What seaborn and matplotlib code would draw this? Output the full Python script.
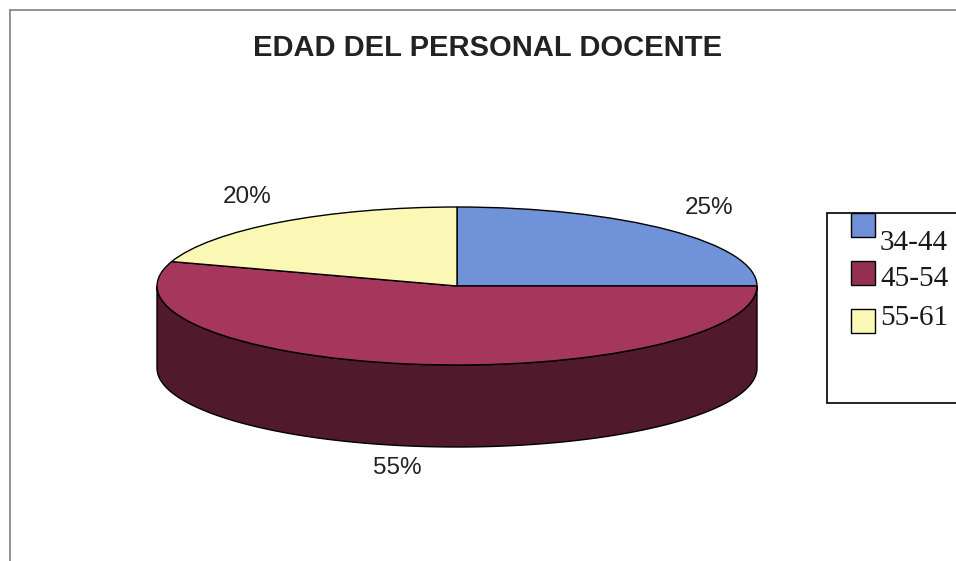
import numpy as np
import matplotlib
matplotlib.use("Agg")
import matplotlib.pyplot as plt
from matplotlib.patches import Rectangle, Polygon
import seaborn as sns

# ---- data ----
title = "EDAD DEL PERSONAL DOCENTE"
categories = ["34-44", "45-54", "55-61"]
values = [25, 55, 20]
pct_labels = ["25%", "55%", "20%"]

sns.set_style("white")
plt.rcParams['font.family'] = ['Liberation Sans', 'DejaVu Sans']

top_colors = sns.color_palette(["#7092d8", "#a5375c", "#fbf8b6"])
side_colors = sns.color_palette(["#3f5c9a", "#501a2c", "#b8b47a"])
legend_colors = ["#6f8fd6", "#952f50", "#fbf8b6"]

W, H = 956, 561
fig = plt.figure(figsize=(W / 100, H / 100), dpi=100)
fig.patch.set_facecolor("white")

# background overlay in pixel coords
bg = fig.add_axes([0, 0, 1, 1])
bg.set_xlim(0, W)
bg.set_ylim(H, 0)
bg.axis("off")

# outer chart frame
bg.plot([10, 10], [10, 561], color="#808080", lw=1.2)
bg.plot([10, 956], [10, 10], color="#808080", lw=1.2)

bg.text(488, 48, title, ha="center", va="center", fontsize=21,
        fontweight="bold", color="#222222")

# ---- pie geometry ----
cx0, cx1 = 157, 757      # ellipse x extent (px)
ty0, ty1 = 207, 365      # top ellipse y extent (px)
depth_px = 82
ry_px = (ty1 - ty0) / 2
d = depth_px / ry_px

left = cx0 / W
width = (cx1 - cx0) / W
bottom = (H - (ty1 + depth_px)) / H
height = (ty1 + depth_px - ty0) / H
ax = fig.add_axes([left, bottom, width, height])

wedges, _ = ax.pie(values, colors=top_colors, startangle=90, counterclock=False,
                   wedgeprops=dict(edgecolor="black", linewidth=1.0),
                   radius=1, center=(0, 0))
for w in wedges:
    w.set_zorder(3)
    w.set_clip_on(False)

# side wall: visible front half (angles 180..360)
total = sum(values)
start = 90.0
for v, sc in zip(values, side_colors):
    a_end = start - 360.0 * v / total
    lo, hi = a_end, start
    for shift in (0, -360, 360):
        l2, h2 = lo + shift, hi + shift
        s0, s1 = max(l2, -180), min(h2, 0)
        if s1 > s0:
            t = np.radians(np.linspace(s0, s1, 200))
            xs = np.cos(t)
            ys = np.sin(t)
            pts = np.concatenate([np.column_stack([xs, ys]),
                                  np.column_stack([xs[::-1], ys[::-1] - d])])
            poly = Polygon(pts, closed=True, facecolor=sc, edgecolor="black",
                           linewidth=1.0, zorder=2, clip_on=False)
            ax.add_patch(poly)
    start = a_end

ax.set_aspect("auto")
ax.set_xlim(-1, 1)
ax.set_ylim(-1 - d, 1)
ax.axis("off")

# percentage labels
start = 90.0
for v, lab in zip(values, pct_labels):
    mid = np.radians(start - 180.0 * v / total)
    if np.sin(mid) >= 0:
        x = 1.19 * np.cos(mid)
        y = 1.39 * np.sin(mid)
    else:
        x = 1.28 * np.cos(mid)
        y = 1.28 * np.sin(mid) - d
    ax.text(x, y, lab, ha="center", va="center", fontsize=17.5, color="#222222",
            clip_on=False)
    start -= 360.0 * v / total

# ---- legend (drawn in pixel coords) ----
bg.add_patch(Rectangle((827, 213), 140, 190, facecolor="white", edgecolor="black",
                       linewidth=1.2, zorder=1))
sq_y = [213, 261, 309]
txt_y = [243, 279, 318]
for cat, col, sy, ty in zip(categories, legend_colors, sq_y, txt_y):
    bg.add_patch(Rectangle((851, sy), 24, 24, facecolor=col, edgecolor="black",
                           linewidth=1.0, zorder=2))
    bg.text(880, ty, cat, ha="left", va="center", fontsize=21,
            family=["Liberation Serif", "DejaVu Serif"], color="#1a1a1a", zorder=3)

fig.savefig("out.png", dpi=100)
